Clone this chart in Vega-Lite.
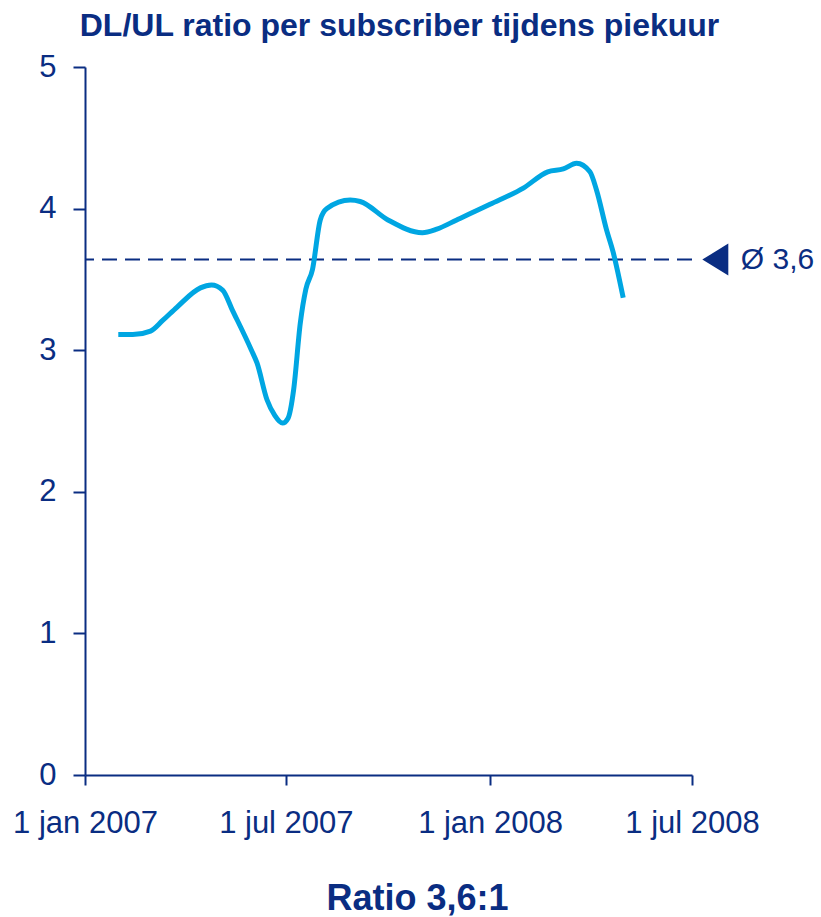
{
  "$schema": "https://vega.github.io/schema/vega-lite/v6.json",
  "autosize": {"type": "none"},
  "padding": {"left": 85, "top": 67, "right": 129, "bottom": 142},
  "width": 607,
  "height": 708,
  "background": "white",
  "config": {"view": {"stroke": null}, "font": "Liberation Sans"},
  "title": {
    "text": "DL/UL ratio per subscriber tijdens piekuur",
    "font": "Liberation Sans",
    "fontSize": 32,
    "fontWeight": "bold",
    "color": "#0a2d82",
    "anchor": "middle",
    "dx": 11,
    "offset": 8
  },
  "datasets": {
    "ratio": [
      {"datum": "2007-01-31", "ratio": 3.11},
      {"datum": "2007-02-13", "ratio": 3.11},
      {"datum": "2007-03-01", "ratio": 3.135},
      {"datum": "2007-03-12", "ratio": 3.21},
      {"datum": "2007-03-25", "ratio": 3.305},
      {"datum": "2007-04-15", "ratio": 3.44},
      {"datum": "2007-04-25", "ratio": 3.46},
      {"datum": "2007-05-05", "ratio": 3.425},
      {"datum": "2007-05-14", "ratio": 3.28},
      {"datum": "2007-05-31", "ratio": 3.0},
      {"datum": "2007-06-05", "ratio": 2.91},
      {"datum": "2007-06-14", "ratio": 2.65},
      {"datum": "2007-06-21", "ratio": 2.54},
      {"datum": "2007-06-28", "ratio": 2.485},
      {"datum": "2007-07-03", "ratio": 2.52},
      {"datum": "2007-07-08", "ratio": 2.72},
      {"datum": "2007-07-14", "ratio": 3.19},
      {"datum": "2007-07-19", "ratio": 3.43},
      {"datum": "2007-07-25", "ratio": 3.57},
      {"datum": "2007-08-01", "ratio": 3.92},
      {"datum": "2007-08-07", "ratio": 4.0},
      {"datum": "2007-08-28", "ratio": 4.06},
      {"datum": "2007-09-06", "ratio": 4.05},
      {"datum": "2007-10-01", "ratio": 3.92},
      {"datum": "2007-11-01", "ratio": 3.83},
      {"datum": "2007-11-14", "ratio": 3.855},
      {"datum": "2007-12-02", "ratio": 3.92},
      {"datum": "2008-01-01", "ratio": 4.03},
      {"datum": "2008-01-31", "ratio": 4.145},
      {"datum": "2008-02-22", "ratio": 4.26},
      {"datum": "2008-03-07", "ratio": 4.28},
      {"datum": "2008-03-19", "ratio": 4.32},
      {"datum": "2008-03-31", "ratio": 4.26},
      {"datum": "2008-04-06", "ratio": 4.13},
      {"datum": "2008-04-15", "ratio": 3.85},
      {"datum": "2008-04-21", "ratio": 3.69},
      {"datum": "2008-04-30", "ratio": 3.37}
    ],
    "gemiddelde": [
      {"gemiddelde": 3.64, "label": "Ø 3,6"}
    ]
  },
  "layer": [
    {
      "data": {"name": "gemiddelde"},
      "mark": {"type": "rule", "stroke": "#0a2d82", "strokeWidth": 2, "strokeDash": [15, 8]},
      "encoding": {
        "y": {"field": "gemiddelde", "type": "quantitative"}
      }
    },
    {
      "data": {"name": "ratio"},
      "mark": {"type": "line", "stroke": "#00a6e2", "strokeWidth": 5, "interpolate": "monotone", "strokeCap": "butt", "strokeJoin": "round"},
      "encoding": {
        "x": {
          "field": "datum",
          "type": "temporal",
          "scale": {
            "type": "utc",
            "domain": [
              {"year": 2007, "month": 1, "date": 1, "utc": true},
              {"year": 2008, "month": 7, "date": 1, "utc": true}
            ],
            "nice": false
          },
          "axis": {
            "values": [
              {"year": 2007, "month": 1, "date": 1, "utc": true},
              {"year": 2007, "month": 7, "date": 1, "utc": true},
              {"year": 2008, "month": 1, "date": 1, "utc": true},
              {"year": 2008, "month": 7, "date": 1, "utc": true}
            ],
            "labelExpr": "(utcmonth(datum.value) == 0 ? '1 jan ' : '1 jul ') + utcyear(datum.value)",
            "grid": false,
            "domainColor": "#0a2d82",
            "domainWidth": 2,
            "tickColor": "#0a2d82",
            "tickWidth": 2,
            "tickSize": 10,
            "labelFont": "Liberation Sans",
            "labelFontSize": 31,
            "labelColor": "#0a2d82",
            "labelPadding": 23,
            "labelFlush": false,
            "labelOverlap": false,
            "labelBound": false,
            "title": "Ratio 3,6:1",
            "titleFont": "Liberation Sans",
            "titleFontSize": 36,
            "titleFontWeight": "bold",
            "titleColor": "#0a2d82",
            "titleX": 332,
            "titleY": 134,
            "titleBaseline": "alphabetic",
            "titleAnchor": null,
            "titleAlign": "center"
          }
        },
        "y": {
          "field": "ratio",
          "type": "quantitative",
          "scale": {"domain": [0, 5], "nice": false, "zero": true},
          "axis": {
            "values": [0, 1, 2, 3, 4, 5],
            "format": "d",
            "grid": false,
            "domainColor": "#0a2d82",
            "domainWidth": 2,
            "tickColor": "#0a2d82",
            "tickWidth": 2,
            "tickSize": 12,
            "labelFont": "Liberation Sans",
            "labelFontSize": 31,
            "labelColor": "#0a2d82",
            "labelPadding": 17,
            "labelFlush": false,
            "labelOverlap": false,
            "labelBound": false,
            "title": null
          }
        }
      }
    },
    {
      "data": {"name": "gemiddelde"},
      "mark": {"type": "point", "filled": true, "opacity": 1, "color": "#0a2d82", "shape": "M1,-1.23L1,1.23L-1,0Z", "size": 676},
      "encoding": {
        "x": {"datum": {"year": 2008, "month": 7, "date": 22, "utc": true}, "type": "temporal"},
        "y": {"field": "gemiddelde", "type": "quantitative"}
      }
    },
    {
      "data": {"name": "gemiddelde"},
      "mark": {"type": "text", "align": "left", "baseline": "middle", "font": "Liberation Sans", "fontSize": 30, "color": "#0a2d82"},
      "encoding": {
        "x": {"datum": {"year": 2008, "month": 8, "date": 14, "utc": true}, "type": "temporal"},
        "y": {"field": "gemiddelde", "type": "quantitative"},
        "text": {"field": "label"}
      }
    }
  ]
}
